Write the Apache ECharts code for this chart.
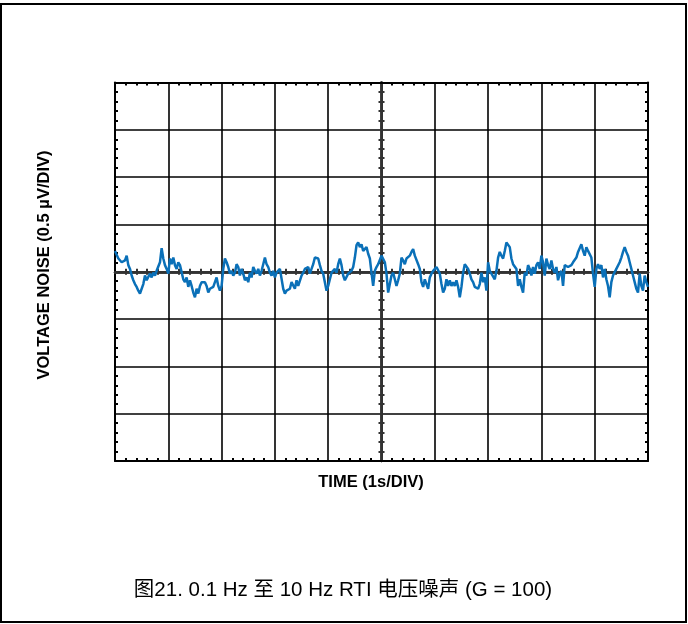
<!DOCTYPE html>
<html>
<head>
<meta charset="utf-8">
<script src="https://cdn.jsdelivr.net/npm/echarts@6/dist/echarts.min.js"></script>
<style>
html,body{margin:0;padding:0;background:#fff;}
#c{width:688px;height:624px;}
</style>
</head>
<body>
<div id="c"></div>
<script>
// Time axis: 1 s per division, 10 divisions
const timeMin = 0, timeMax = 10, timeDiv = 1;
// Voltage axis: 0.5 uV per division, 8 divisions
const voltMin = -2, voltMax = 2, voltDiv = 0.5;
// sample spacing of the read-off trace (s)
const sampleStep = 0.03125;

// Noise trace (uV), in order of time
const noise0to2 = [0.22,0.21,0.14,0.16,0.10,0.08,0.12,0.17,0.07,0.03,-0.04,-0.09,-0.13,-0.16,-0.20,-0.23,-0.22,-0.13,-0.04,-0.09,-0.08,-0.02,-0.06,-0.01,-0.04,0.01,0.03,0.10,0.25,0.14,0.07,0.03,-0.02,0.14,0.08,0.15,0.07,0.03,0.10,0.07,0.08,-0.08,-0.11,-0.06,-0.16,-0.09,-0.15,-0.22,-0.27,-0.18,-0.23,-0.15,-0.11];
const noise2to3 = [-0.09,-0.11,-0.15,-0.22,-0.18,-0.20,-0.16,-0.18,-0.06,-0.15,-0.20,-0.15,0.03,0.14,0.10,0.05,-0.02,0.01,-0.04,-0.01,0.08,0.05,-0.04,0.03,-0.02,-0.09,-0.06,-0.11,-0.01,-0.06,0.05,0.01,-0.02,0.03,-0.04,0.01,0.08,0.15,0.08,0.05,-0.01,-0.04,0.01,-0.06,-0.01,-0.02,0.03,0.05,-0.18,-0.23,-0.20,-0.22,-0.18,-0.11];
const noise3to5 = [-0.11,-0.18,-0.09,-0.15,-0.13,-0.04,-0.01,0.03,0.01,0.05,-0.02,0.03,0.08,0.15,0.15,0.14,0.07,0.01,-0.02,-0.11,-0.20,-0.15,-0.08,-0.01,0.01,0.03,-0.01,0.08,0.14,0.07,-0.04,-0.09,-0.08,-0.02,-0.04,0.01,0.05,0.15,0.28,0.31,0.26,0.29,0.22,0.24,0.26,0.19,0.14,-0.01,-0.15,0.01,0.05,0.08,0.10,0.17];
const noise5to6 = [0.19,0.10,-0.02,-0.22,-0.13,-0.04,-0.01,-0.08,-0.15,-0.09,-0.02,0.15,0.12,0.08,0.14,0.12,0.17,0.21,0.24,0.17,0.19,0.08,0.03,-0.11,-0.16,-0.08,-0.13,-0.18,-0.06,-0.02,0.01,-0.01,0.05,0.03,-0.02,-0.13,-0.22,-0.18,-0.08,-0.15,-0.09,-0.15,-0.11,-0.15,-0.09,-0.16,-0.27,-0.16,-0.01,0.08,0.07,0.03,-0.02,-0.08];
const noise6to8 = [-0.11,-0.16,-0.15,-0.18,-0.13,-0.01,-0.11,-0.06,-0.20,0.10,0.01,-0.02,-0.01,-0.08,0.01,0.15,0.21,0.17,0.14,0.22,0.31,0.33,0.26,0.14,0.08,0.10,0.03,-0.15,-0.08,-0.16,-0.22,-0.01,-0.04,0.07,0.03,-0.04,0.05,-0.02,0.07,0.10,0.03,0.17,0.10,-0.04,0.14,0.07,0.03,0.12,0.03,-0.01,0.05,-0.09,-0.02];
const noise8to10 = [0.01,-0.15,0.07,0.08,0.05,0.03,0.07,0.10,0.08,0.15,0.21,0.19,0.29,0.22,0.17,0.26,0.22,0.21,0.15,-0.02,-0.16,0.03,0.08,0.03,0.07,-0.06,0.03,-0.08,-0.15,-0.27,-0.11,-0.04,-0.02,0.03,0.05,0.10,0.15,0.21,0.26,0.21,0.17,0.10,0.03,-0.04,-0.11,-0.18,-0.22,-0.02,-0.15,-0.20,-0.04,-0.11,-0.16];

const xTitle = 'TIME (1s/DIV)';
const yTitle = 'VOLTAGE NOISE (0.5 µV/DIV)';
const caption = '图21. 0.1 Hz 至 10 Hz RTI 电压噪声 (G = 100)';

const noise = [].concat(noise0to2, noise2to3, noise3to5, noise5to6, noise6to8, noise8to10);
const traceData = noise.map((v, i) => [i * sampleStep, v]);

const chart = echarts.init(document.getElementById('c'), null, {renderer: 'canvas'});
const G = {left: 115, top: 82.5, width: 533, height: 378.5};

function borderAxis(extra) {
  return Object.assign({
    type: 'value',
    axisLine: {show: true, onZero: false, lineStyle: {color: '#000', width: 2}},
    axisTick: {show: false, inside: true},
    minorTick: {show: true, splitNumber: 5, length: 3, lineStyle: {color: '#000', width: 2}},
    axisLabel: {show: false},
    splitLine: {show: false},
    minorSplitLine: {show: false}
  }, extra);
}
function centerAxis(extra) {
  return Object.assign({
    type: 'value',
    axisLine: {show: true, onZero: true, onZeroAxisIndex: 2, lineStyle: {color: '#333', width: 2.5}},
    axisTick: {show: false, inside: true},
    minorTick: {show: true, splitNumber: 5, length: 3, lineStyle: {color: '#333', width: 2}},
    axisLabel: {show: false},
    splitLine: {show: false},
    minorSplitLine: {show: false}
  }, extra);
}
const half = (timeMax - timeMin) / 2;
const vHalf = (voltMax - voltMin) / 2;

chart.setOption({
  animation: false,
  backgroundColor: '#fff',
  grid: [Object.assign({}, G), Object.assign({}, G)],
  xAxis: [
    borderAxis({gridIndex: 0, position: 'bottom', min: timeMin, max: timeMax, interval: timeDiv,
      splitLine: {show: true, lineStyle: {color: '#000', width: 1.6}}}),
    borderAxis({gridIndex: 0, position: 'top', min: timeMin, max: timeMax, interval: timeDiv}),
    centerAxis({gridIndex: 1, position: 'bottom', min: -half, max: half, interval: timeDiv}),
    centerAxis({gridIndex: 1, position: 'top', min: -half, max: half, interval: timeDiv})
  ],
  yAxis: [
    borderAxis({gridIndex: 0, position: 'left', min: voltMin, max: voltMax, interval: voltDiv,
      splitLine: {show: true, lineStyle: {color: '#000', width: 1.6}}}),
    borderAxis({gridIndex: 0, position: 'right', min: voltMin, max: voltMax, interval: voltDiv}),
    centerAxis({gridIndex: 1, position: 'left', min: -vHalf, max: vHalf, interval: voltDiv}),
    centerAxis({gridIndex: 1, position: 'right', min: -vHalf, max: vHalf, interval: voltDiv})
  ],
  series: [{
    type: 'line',
    xAxisIndex: 0,
    yAxisIndex: 0,
    data: traceData,
    showSymbol: false,
    z: 10,
    lineStyle: {color: '#0a70b8', width: 2.5},
    itemStyle: {color: '#0a70b8'}
  }],
  graphic: [
    {type: 'rect', shape: {x: 1, y: 4, width: 685, height: 618}, style: {fill: null, stroke: '#000', lineWidth: 2}, silent: true},
    {type: 'text', x: 371, y: 482, style: {text: xTitle, align: 'center', verticalAlign: 'middle', font: 'bold 16.5px "Liberation Sans", Arial, sans-serif', fill: '#000'}},
    {type: 'text', x: 44, y: 265, rotation: Math.PI / 2, style: {text: yTitle, align: 'center', verticalAlign: 'middle', font: 'bold 16.5px "Liberation Sans", Arial, sans-serif', fill: '#000'}},
    {type: 'text', x: 343, y: 590, style: {text: caption, align: 'center', verticalAlign: 'middle', font: '20.5px "Liberation Sans", "Noto Sans CJK SC", sans-serif', fill: '#000'}}
  ]
});
</script>
</body>
</html>
